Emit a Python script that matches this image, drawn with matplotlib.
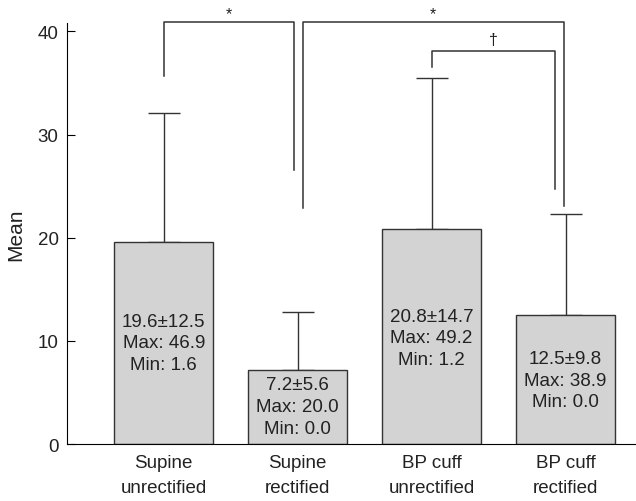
import matplotlib.pyplot as plt

plt.rcParams['font.family'] = ['Liberation Sans', 'DejaVu Sans']

# Data
groups = ["Supine\nunrectified", "Supine\nrectified", "BP cuff\nunrectified", "BP cuff\nrectified"]
means = [19.6, 7.2, 20.8, 12.5]
sds = [12.5, 5.6, 14.7, 9.8]
maxs = [46.9, 20.0, 49.2, 38.9]
mins = [1.6, 0.0, 1.2, 0.0]
label_y = [9.8, 3.65, 10.3, 6.2]

# brackets: (x_left, y_left_bottom, x_right, y_right_bottom, y_top, mark, mark_x, mark_y)
brackets = [
    (0.0, 35.7, 0.975, 26.6, 40.9, "*", 0.49, 41.0),
    (1.04, 22.9, 2.987, 23.1, 40.9, "*", 2.006, 41.0),
    (2.0, 36.5, 2.92, 24.7, 38.1, "\u2020", 2.46, 38.45),
]

txt = '#222222'
fig = plt.figure(figsize=(6.36, 5.02), dpi=100)
ax = fig.add_axes([0.1053, 0.1135, 0.8947, 0.8385])

x = list(range(len(groups)))
ax.bar(x, means, width=0.74, color='#d3d3d3', edgecolor='#333333', linewidth=1.0, zorder=2)
ax.errorbar(x, means, yerr=[[0] * len(sds), sds], fmt='none', ecolor='#333333',
            elinewidth=1.0, capsize=11.5, capthick=1.0, zorder=1)

for i in x:
    s = f"{means[i]:.1f}\u00b1{sds[i]:.1f}\nMax: {maxs[i]:.1f}\nMin: {mins[i]:.1f}"
    ax.text(i, label_y[i], s, ha='center', va='center', fontsize=13.5,
            linespacing=1.36, color=txt, zorder=3)

for xl, yl, xr, yr, yt, mark, mx, my in brackets:
    ax.plot([xl, xl, xr, xr], [yl, yt, yt, yr], color='#333333', lw=1.1, clip_on=False)
    ax.text(mx, my, mark, ha='center', va='bottom', fontsize=11.5, color=txt)

ax.set_xlim(-0.722, 3.525)
ax.set_ylim(0, 40.8)
ax.set_xticks(x)
ax.set_xticklabels(groups, fontsize=13.5, color=txt, linespacing=1.6)
ax.set_yticks([0, 10, 20, 30, 40])
ax.tick_params(axis='y', direction='in', length=6, labelsize=13.5, labelcolor=txt, pad=6)
ax.tick_params(axis='x', length=0, pad=7)
ax.set_ylabel("Mean", fontsize=15, color=txt, labelpad=9)
ax.spines['top'].set_visible(False)
ax.spines['right'].set_visible(False)

plt.savefig("out.png", dpi=100)
